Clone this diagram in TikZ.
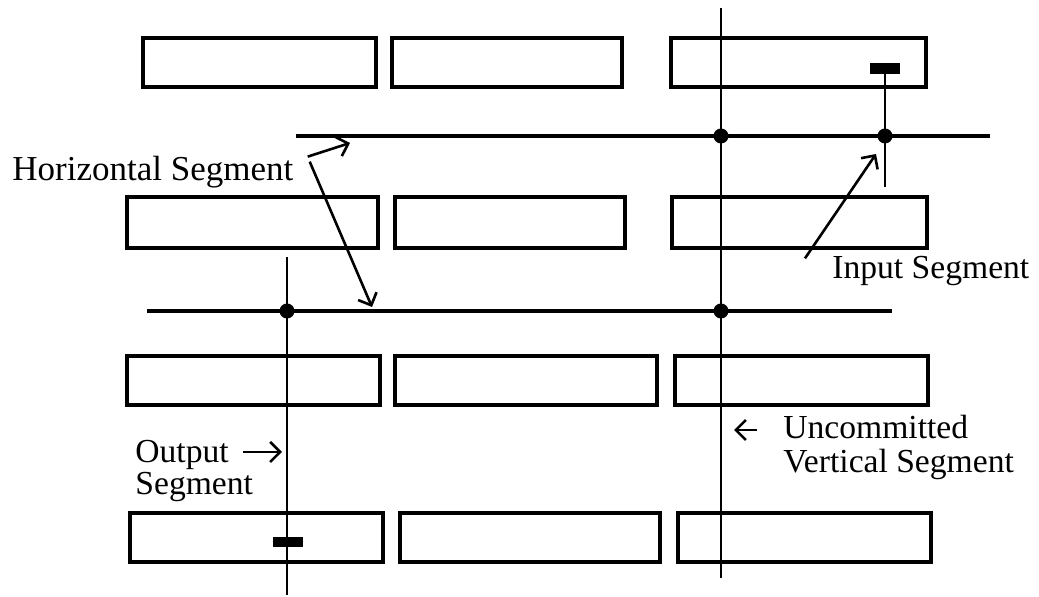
\documentclass[tikz,border=0pt]{standalone}
\usepackage{fontspec}
\setmainfont{Liberation Serif}
\usetikzlibrary{arrows.meta}

\begin{document}
\begin{tikzpicture}[
        x=0.5pt, y=-0.5pt,
        cell/.style={
            rectangle,
            draw=black,
            line width=2pt,
            minimum height=24.5pt,
            minimum width=126.5pt,
            inner sep=0pt
        },
        contact/.style={
            rectangle,
            fill=black,
            minimum width=15pt,
            minimum height=5.5pt,
            inner sep=0pt
        },
        dot/.style={
            circle,
            fill=black,
            minimum size=7.5pt,
            inner sep=0pt
        },
        tag/.style={
            font=\fontsize{16.8}{16}\selectfont,
            inner sep=0pt,
            align=left
        },
        wire/.style={line width=1.8pt},
        arrow/.style={
            -{Straight Barb[length=5pt,width=10pt]},
            line width=1.3pt
        }
    ]

    \useasboundingbox (0,0) rectangle (1039,597);

    % logic blocks, row by row
    \node[cell, minimum width=116.5pt] (r1c1) at (259.5,62.5) {};
    \node[cell, minimum width=115pt]   (r1c2) at (507,62.5)   {};
    \node[cell, minimum width=127.5pt] (r1c3) at (798.5,62.5) {};

    \node[cell, minimum width=125.5pt, minimum height=25.5pt] (r2c1) at (252.5,222.5) {};
    \node[cell, minimum width=115pt,   minimum height=25.5pt] (r2c2) at (510,222.5)   {};
    \node[cell, minimum width=127.5pt, minimum height=25.5pt] (r2c3) at (799.5,222.5) {};

    \node[cell] (r3c1) at (253.5,380.5) {};
    \node[cell, minimum width=131pt] (r3c2) at (526,380.5) {};
    \node[cell] (r3c3) at (801.5,380.5) {};

    \node[cell] (r4c1) at (256.5,537.5) {};
    \node[cell, minimum width=130pt] (r4c2) at (530,537.5) {};
    \node[cell] (r4c3) at (804.5,537.5) {};

    % routing tracks
    \coordinate (hu-w) at (296,136);
    \coordinate (hu-e) at (990,136);
    \coordinate (hl-w) at (147,311);
    \coordinate (hl-e) at (892,311);
    \coordinate (vr-n) at (721,8);
    \coordinate (vr-s) at (721,578);
    \coordinate (vl-n) at (287,257);
    \coordinate (vl-s) at (287,595);
    \coordinate (in-s) at (885,187);

    \draw[wire] (hu-w) -- (hu-e);
    \draw[wire] (hl-w) -- (hl-e);
    \draw[line width=1.4pt] (vr-n) -- (vr-s);
    \draw[line width=1.2pt] (vl-n) -- (vl-s);

    \node[contact] (inpad)  at (885,68.5) {};
    \node[contact, minimum height=5pt] (outpad) at (288,542) {};
    \draw[line width=1.2pt] (inpad.south) -- (in-s);

    \node[dot] (j1) at (721,136) {};
    \node[dot] (j2) at (885,136) {};
    \node[dot] (j3) at (721,311) {};
    \node[dot] (j4) at (287,311) {};

    % labels
    \node[tag, anchor=base west, font=\fontsize{17.5}{16}\selectfont] (hseg) at (12,181) {Horizontal Segment};
    \node[tag, anchor=base west] (inseg) at (832,279) {Input Segment};
    \node[tag, anchor=north west] (outseg) at (135,440) {Output\\Segment};
    \node[tag, anchor=north west, font=\fontsize{16.8}{17}\selectfont] (uvseg) at (783,415) {Uncommitted\\Vertical Segment};

    \coordinate (hu-tip) at (350,143);
    \coordinate (hl-tip) at (372,307);
    \coordinate (in-tip) at (876,154);
    \coordinate (out-tip) at (282,452);
    \coordinate (uv-tip) at (734,430);

    \draw[arrow] ([shift={(14,-16)}]hseg.east) -- (hu-tip);
    \draw[arrow] ([shift={(16,-11)}]hseg.east) -- (hl-tip);
    \draw[arrow] ([shift={(-27,2)}]inseg.north west) -- (in-tip);
    \draw[arrow] (243,452) -- (out-tip);
    \draw[arrow] (757,430) -- (uv-tip);

\end{tikzpicture}
\end{document}
